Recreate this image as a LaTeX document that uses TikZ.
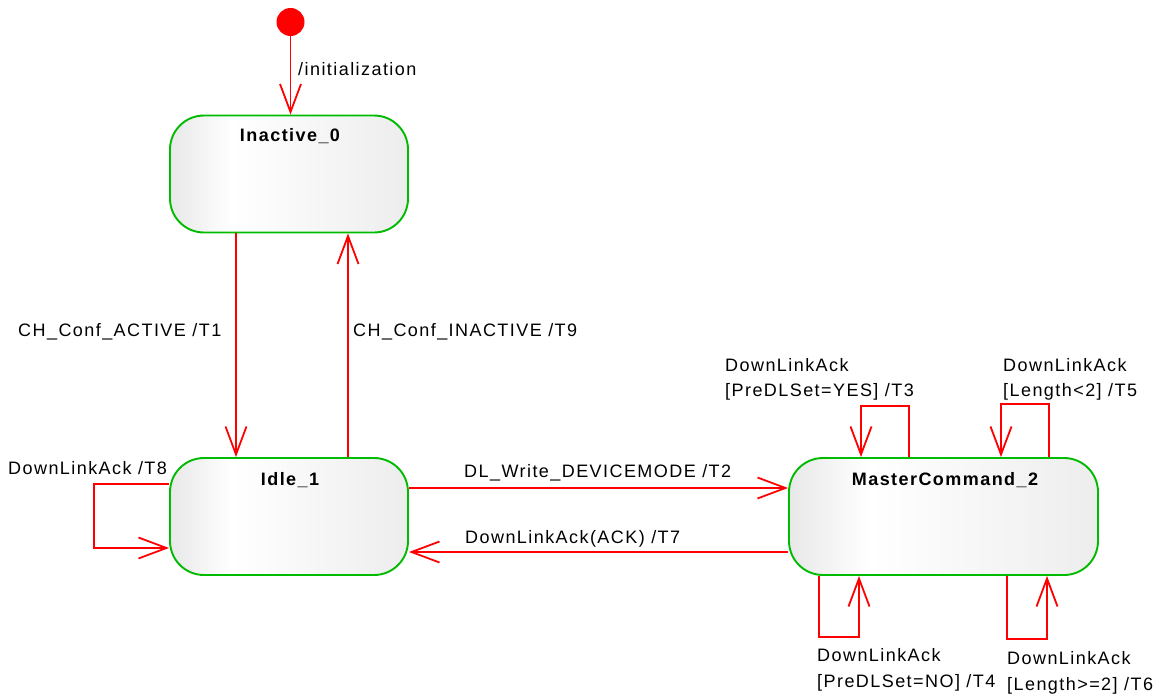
\documentclass[tikz,border=0pt]{standalone}
\usepackage{fontspec}
\setmainfont{Liberation Sans}[LetterSpace=8]
\usetikzlibrary{arrows.meta}
\definecolor{stgreen}{RGB}{0,187,0}
\definecolor{trred}{RGB}{255,0,0}
% soft horizontal fill of the state boxes
\pgfdeclarehorizontalshading{stfill}{100bp}{color(0bp)=(black!9); color(25bp)=(black!9); color(38bp)=(white); color(75bp)=(black!7); color(100bp)=(black!7)}

\begin{document}
\begin{tikzpicture}[x=1pt,y=-1pt,
  every node/.style={font=\fontsize{18}{21}\selectfont, inner sep=0pt},
  state/.style={draw=stgreen, line width=1.9pt, rounded corners=34pt, shade, shading=stfill,
                minimum width=238pt, minimum height=117pt},
  title/.style={font=\fontsize{18}{21}\selectfont\bfseries, anchor=base},
  lbl/.style={anchor=base west},
  tr/.style={draw=trred, line width=1.8pt, -{Straight Barb[length=28pt,width=21pt]}}]
\useasboundingbox (0,0) rectangle (1166,698);

% initial pseudo-state
\node[circle, fill=trred, minimum size=28pt] (init) at (290.5,22) {};

% states
\node[state] (inactive) at (289,174) {};
\node[title] (inactiveT) at (290,142) {Inactive\_0};
\node[state] (idle) at (289,516.5) {};
\node[title] (idleT) at (290,485) {Idle\_1};
\node[state, minimum width=309pt] (mc) at (943.5,516.5) {};
\node[title] (mcT) at (945,485) {MasterCommand\_2};

% transitions between states
\draw[tr] (init) -- (init |- inactive.north);
\draw[tr] ([xshift=-53pt]inactive.south) -- ([xshift=-53pt]idle.north);
\draw[tr] ([xshift=59pt]idle.north) -- ([xshift=59pt]inactive.south);
\draw[tr] ([yshift=28.5pt]idle.east) -- ([yshift=28.5pt]mc.west);
\draw[tr] ([yshift=-35.5pt]mc.west) -- ([yshift=-35.5pt]idle.east);

% self transitions
\coordinate (c8) at (94,548);
\draw[tr] ([yshift=32.5pt]idle.west) -| (c8) -- (c8 -| idle.west);

\coordinate (c3a) at (909,406);
\coordinate (c3b) at (861,406);
\draw[tr] (c3a |- mc.north) -- (c3a) -- (c3b) -- (c3b |- mc.north);

\coordinate (c5a) at (1049,404);
\coordinate (c5b) at (1001,404);
\draw[tr] (c5a |- mc.north) -- (c5a) -- (c5b) -- (c5b |- mc.north);

\coordinate (c4a) at (819,637);
\coordinate (c4b) at (859,637);
\draw[tr] (c4a |- mc.south) -- (c4a) -- (c4b) -- (c4b |- mc.south);

\coordinate (c6a) at (1007,639);
\coordinate (c6b) at (1047,639);
\draw[tr] (c6a |- mc.south) -- (c6a) -- (c6b) -- (c6b |- mc.south);

% transition labels
\node[lbl] (l0) at (298,76) {/initialization};
\node[lbl] (l1) at (18,336) {CH\_Conf\_ACTIVE /T1};
\node[lbl] (l9) at (353,336) {CH\_Conf\_INACTIVE /T9};
\node[lbl] (l2) at (464,477) {DL\_Write\_DEVICEMODE /T2};
\node[lbl] (l7) at (465,543) {DownLinkAck(ACK) /T7};
\node[lbl] (l8) at (8,474) {DownLinkAck /T8};
\node[lbl] (l3a) at (725,371) {DownLinkAck};
\node[lbl] (l3b) at (725,396) {[PreDLSet=YES] /T3};
\node[lbl] (l5a) at (1003,371) {DownLinkAck};
\node[lbl] (l5b) at (1003,396) {[Length<2] /T5};
\node[lbl] (l4a) at (817,661) {DownLinkAck};
\node[lbl] (l4b) at (817,687) {[PreDLSet=NO] /T4};
\node[lbl] (l6a) at (1007,664) {DownLinkAck};
\node[lbl] (l6b) at (1007,690) {[Length>=2] /T6};
\end{tikzpicture}
\end{document}
